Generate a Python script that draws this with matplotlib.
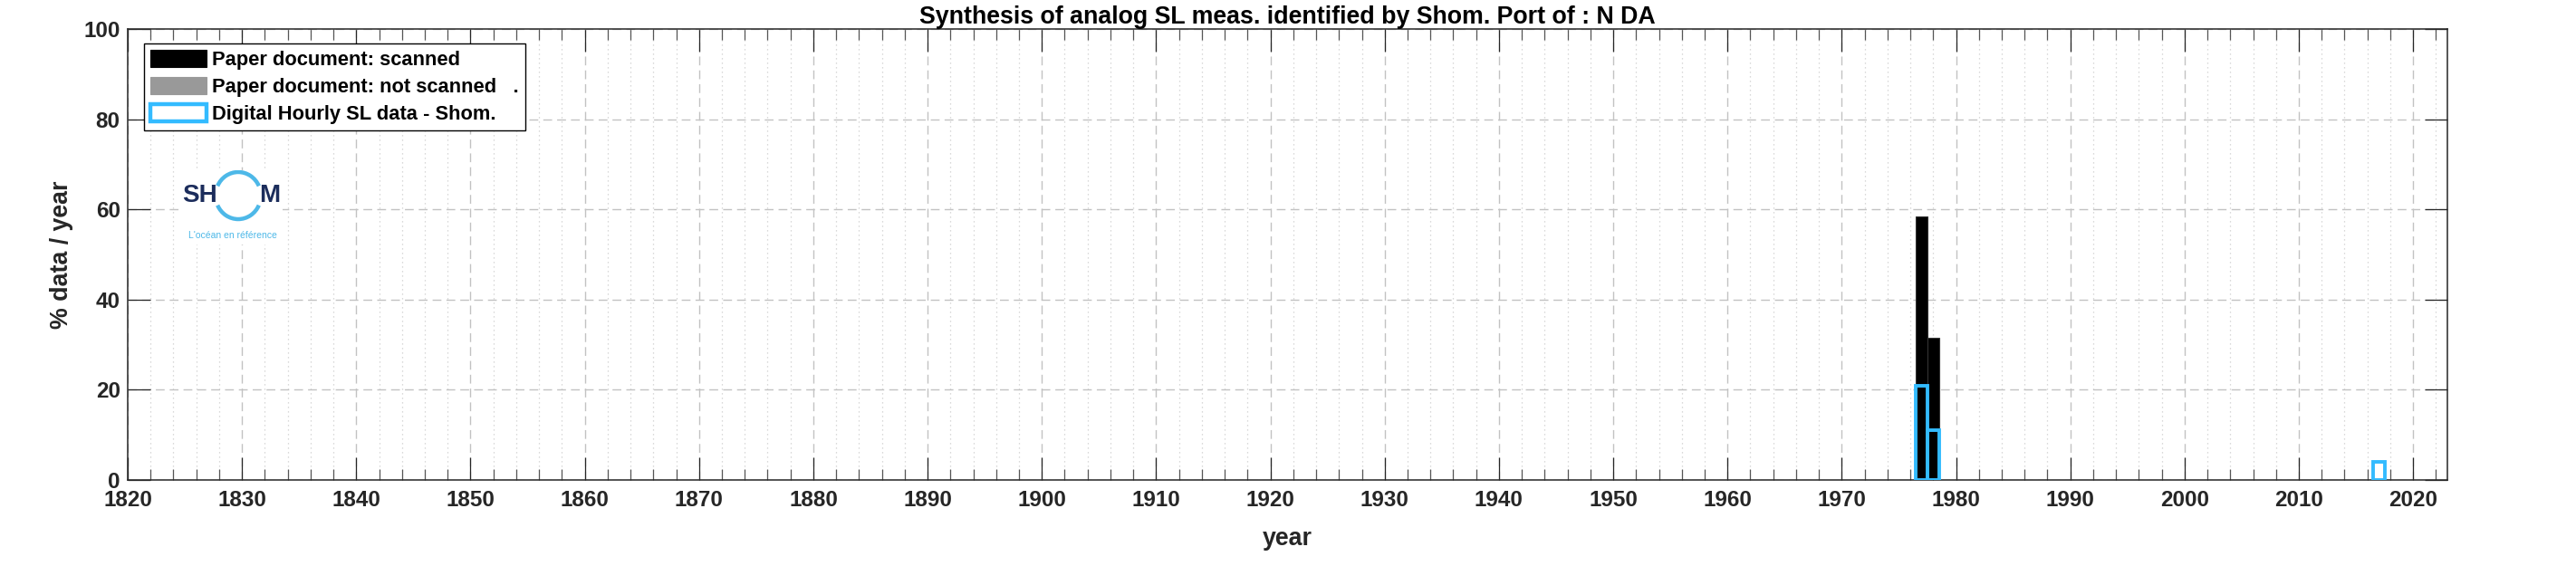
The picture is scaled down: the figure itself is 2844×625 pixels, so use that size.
import matplotlib
matplotlib.use("Agg")
import matplotlib.pyplot as plt
from matplotlib.patches import Patch, Arc
from matplotlib.ticker import MultipleLocator

# ---------------- data ----------------
years_scanned = [1977, 1978]
pct_scanned = [58.4, 31.5]
years_not_scanned = []
pct_not_scanned = []
years_digital = [1977, 1978, 2017]
pct_digital = [20.9, 11.1, 4.1]

title_text = "Synthesis of analog SL meas. identified by Shom. Port of : N DA"
legend_labels = ["Paper document: scanned",
                 "Paper document: not scanned   .",
                 "Digital Hourly SL data - Shom."]
x_ticks = list(range(1820, 2021, 10))
y_ticks = [0, 20, 40, 60, 80, 100]

# ---------------- style ----------------
W, H = 2844, 625
DPI = 100
plt.rcParams['font.family'] = ['Liberation Sans', 'DejaVu Sans']
plt.rcParams['font.weight'] = 'bold'
TXT = '#262626'
BLUE = '#33bbff'

fig = plt.figure(figsize=(W / DPI, H / DPI), dpi=DPI)
ax = fig.add_axes([141 / W, 1 - 530 / H, (2702 - 141) / W, (530 - 32) / H])

ax.bar(years_scanned, pct_scanned, width=1.0, color='black',
       edgecolor='#333333', linewidth=0.8, zorder=3)
ax.bar(years_not_scanned, pct_not_scanned, width=1.0, color='#999999',
       edgecolor='#666666', linewidth=0.8, zorder=3)
ax.bar(years_digital, pct_digital, width=1.0, fill=False,
       edgecolor=BLUE, linewidth=2.8, zorder=4)

ax.set_xlim(1820, 2023)
ax.set_ylim(0, 100)
ax.set_xticks(x_ticks)
ax.set_yticks(y_ticks)
ax.xaxis.set_minor_locator(MultipleLocator(2))

ax.set_axisbelow(True)
ax.grid(True, which='major', axis='both', color='#c2c2c2',
        linestyle=(0, (7, 4)), linewidth=1.0)
ax.grid(True, which='minor', axis='x', color='#cdcdcd',
        linestyle=(0, (1, 3)), linewidth=0.9)

for s in ax.spines.values():
    s.set_color(TXT)
    s.set_linewidth(1.1)

ax.tick_params(which='major', direction='in', length=18, width=0.9,
               color=TXT, labelcolor=TXT, labelsize=17.5,
               top=True, right=True)
ax.tick_params(which='minor', direction='in', length=8.6, width=0.9,
               color='#555555', top=True, right=True)
ax.tick_params(axis='x', which='major', pad=8)
ax.tick_params(axis='y', which='major', pad=6)
for lab in ax.get_xticklabels() + ax.get_yticklabels():
    lab.set_fontweight('bold')

ax.set_title(title_text, fontsize=19.25, fontweight='bold', color='black', pad=4)
ax.set_xlabel('year', fontsize=19.25, fontweight='bold', color=TXT)
ax.xaxis.set_label_coords(0.5, -0.104)
ax.set_ylabel('% data / year', fontsize=19.25, fontweight='bold', color=TXT)
ax.yaxis.set_label_coords(-0.0235, 0.5)

handles = [Patch(facecolor='black', edgecolor='black', linewidth=0.8),
           Patch(facecolor='#999999', edgecolor='#999999', linewidth=0.8),
           Patch(facecolor='white', edgecolor=BLUE, linewidth=3.2)]
leg = ax.legend(handles, legend_labels, loc='upper left',
                bbox_to_anchor=(159 / W, 1 - 48 / H), bbox_transform=fig.transFigure,
                borderaxespad=0, fontsize=15.75, frameon=True, fancybox=False,
                framealpha=1, edgecolor='black', handlelength=2.85,
                handleheight=1.0, handletextpad=0.3, labelspacing=0.36,
                borderpad=0.3)
leg.get_frame().set_linewidth(1.0)
for t in leg.get_texts():
    t.set_fontweight('bold')
    t.set_color('black')
leg.set_zorder(10)

# ---------------- logo ----------------
lax = fig.add_axes([200 / W, 1 - 270 / H, 112 / W, 82 / H])
lax.set_xlim(0, 112)
lax.set_ylim(82, 0)
lax.set_xticks([])
lax.set_yticks([])
for s in lax.spines.values():
    s.set_visible(False)
lax.set_facecolor('white')
NAVY = '#1c2d5c'
LBLUE = '#4db8e8'
lax.text(21, 28, 'SH', fontsize=20, fontweight='bold', color=NAVY,
         ha='center', va='center')
lax.text(98, 28, 'M', fontsize=20, fontweight='bold', color=NAVY,
         ha='center', va='center')
lax.add_patch(Arc((63, 28), 50, 52, theta1=25, theta2=155, color=LBLUE, lw=3.2))
lax.add_patch(Arc((63, 28), 50, 52, theta1=205, theta2=335, color=LBLUE, lw=3.2))
lax.text(57, 72, "L'océan en référence", fontsize=7.5, fontweight='normal',
         color=LBLUE, ha='center', va='center')

fig.savefig('out.png', dpi=DPI, facecolor='white')
